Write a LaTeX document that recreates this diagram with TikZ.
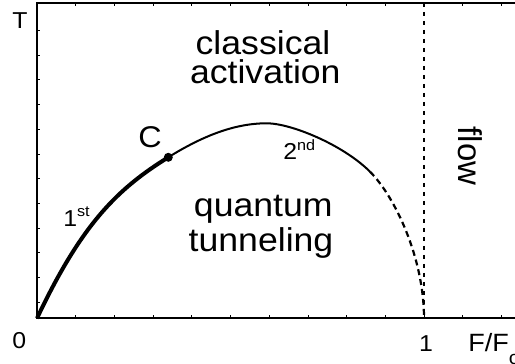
\documentclass[tikz,border=0pt]{standalone}
\usepackage{fontspec}
\setmainfont{Liberation Sans}
\usepackage{tikz}

\begin{document}
\begin{tikzpicture}[x=1pt,y=1pt,
  lbl/.style={anchor=base,inner sep=0pt,outer sep=0pt,xscale=1.08},
  regionText/.style={lbl,font=\fontsize{33}{33}\selectfont},
  axisText/.style={lbl,font=\fontsize{23}{23}\selectfont},
  tickLine/.style={draw=drawColor,line width=0.8pt}]
\definecolor{drawColor}{RGB}{0,0,0}
\path[use as bounding box] (0,0) rectangle (515,364);

\coordinate (topRight) at (515,361.00);
\coordinate (topLeft) at ( 37,361.00);
\coordinate (origin) at ( 37, 45.70);
\coordinate (botRight) at (515, 45.70);
\coordinate (flowTop) at (424,361.00);
\coordinate (flowBot) at (424, 45.70);

\path[draw=drawColor,line width= 1.6pt] (topRight) -- (topLeft) -- (origin) -- (botRight);

\foreach \k in {1,...,12} {
  \path[tickLine] ({37+38.7*\k}, 45.70) -- ++(0, 3);
  \path[tickLine] ({37+38.7*\k},361.00) -- ++(0,-3);
}
\foreach \k in {0,...,11}
  \path[tickLine] (37,{333.5-24.7*\k}) -- ++(3,0);

\path[draw=drawColor,line width= 1.3pt,dash pattern=on 4pt off 5pt] (flowTop) -- (flowBot);

\coordinate (C) at (168.3,206.7);
\coordinate (peak) at (266.7,240.7);
\coordinate (solidEnd) at (370.0,192.3);

\path[draw=drawColor,line width= 4pt] (origin) .. controls (82.0,141.0) and (118.3,175.7) .. (C);
\path[draw=drawColor,line width= 2pt] (C) .. controls (201.3,227.2) and (233.7,240.7) .. (peak)
  .. controls (291.0,240.7) and (343.0,219.3) .. (solidEnd);
\path[draw=drawColor,line width= 2.2pt,dash pattern=on 6pt off 4pt] (solidEnd)
  .. controls (395.0,167.3) and (424.0,106.0) .. (flowBot);

\path[fill=drawColor] (C) circle (4.5);

\node[regionText,text depth=0pt] (classical) at (263.0,309.0) {classical};
\node[regionText] (activation) at (265.3,280.7) {activation};
\node[regionText,text depth=0pt] (quantum) at (263.3,147.3) {quantum};
\node[regionText] (tunneling) at (261.0,112.3) {tunneling};
\node[anchor=base,inner sep=0pt,outer sep=0pt,rotate=-90,font=\fontsize{33}{33}\selectfont] (flow) at (458.0,208.0) {flow};

\node[lbl,font=\fontsize{30}{30}\selectfont] (labelC) at (150.0,216.7) {C};
\node[axisText,anchor=base west] (first) at (63.3,137.3) {1\raisebox{10pt}{\fontsize{15}{15}\selectfont st}};
\node[axisText,anchor=base west] (second) at (283.3,204.0) {2\raisebox{9.5pt}{\fontsize{15}{15}\selectfont nd}};

\node[axisText] (labelT) at ( 20.0,335.0) {T};
\node[axisText] (labelZero) at ( 19.3, 15.7) {0};
\node[axisText] (labelOne) at (426.0, 12.3) {1};
\node[axisText,anchor=base west,font=\fontsize{25}{25}\selectfont] (labelF) at (468.3, 12.3) {F/F\raisebox{-13pt}{\fontsize{19}{19}\selectfont c}};
\end{tikzpicture}
\end{document}
